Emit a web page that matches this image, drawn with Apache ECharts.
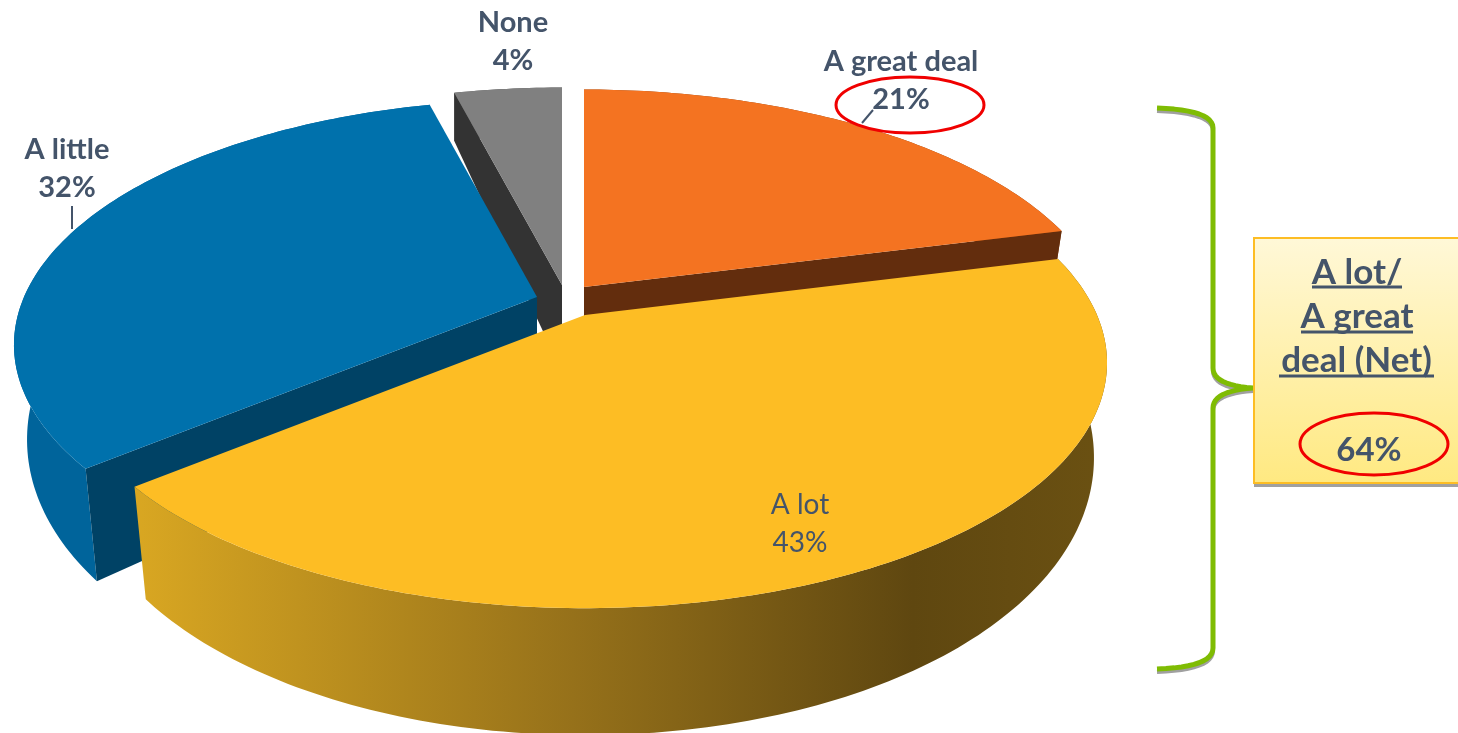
<!DOCTYPE html>
<html><head><meta charset="utf-8">
<style>html,body{margin:0;padding:0;background:#fff}#c{width:1458px;height:733px}</style>
<script src="https://cdn.jsdelivr.net/npm/echarts@6/dist/echarts.min.js"></script>
</head><body><div id="c"></div>
<script>
const categories = ['A great deal', 'A lot', 'A little', 'None'];
const values = [21, 43, 32, 4];
const netLabelLines = ['A lot/', 'A great', 'deal (Net)'];
const netValue = '64%';

const topColors = ['#f47321', '#fdbd24', '#0071ac', '#808080'];
const sideColors = ['#632d0d', '#fdbd24', '#004265', '#333333'];
const apexX = [584, 585, 537, 562];
const apexY = [287, 315, 297, 285];
const radii = [517, 512, 513, 515];
const wallShrink = [0.975, 0.975, 0.975, 1];
const drawOrder = [1, 3, 2, 0];
const radialEdge = ['end', null, 'start', 'start'];
const labelX = [901, 800, 67, 513];
const labelY = [81, 524, 169, 42];
const labelFont = ['bold 29px Lato', 'normal 28px Lato', 'bold 29px Lato', 'bold 29px Lato'];

const wallFills = [
  '#8a3f10',
  new echarts.graphic.LinearGradient(0, 0, 1, 0, [
    { offset: 0, color: '#d9a722' }, { offset: 0.45, color: '#96711a' },
    { offset: 0.8, color: '#5f4710' }, { offset: 1, color: '#6b5112' }]),
  '#00649b',
  '#555555'
];

const TILT = 236, PERSP = 0.195;
const total = values.reduce((a, b) => a + b, 0);

function project(i, deg, r) {
  const t = deg * Math.PI / 180;
  const u = Math.sin(t) * r, v = -Math.cos(t) * r;
  const s = 1 / (1 - PERSP * v);
  return { x: apexX[i] + radii[i] * u * s, y: apexY[i] + TILT * v * s, v };
}
function lower(i, p) {
  return [apexX[i] + (p.x - apexX[i]) * wallShrink[i], p.y + 87 + 40 * p.v];
}
function renderItem(params, api) {
  const i = params.dataIndex;
  let before = 0;
  for (let k = 0; k < i; k++) before += values[k];
  const a0 = before / total * 360;
  const a1 = (before + api.value(0)) / total * 360;
  const base = drawOrder[i] * 10;
  const arcTop = [], arcBottom = [];
  for (let d = a0; d < a1; d += 1) {
    const p = project(i, d, 1);
    arcTop.push(p); arcBottom.push(lower(i, p));
  }
  const pe = project(i, a1, 1);
  arcTop.push(pe); arcBottom.push(lower(i, pe));
  const apex = project(i, 0, 0);
  const children = [];
  children.push({ type: 'polygon', z2: base + 1,
    shape: { points: arcTop.map(p => [p.x, p.y]).concat(arcBottom.slice().reverse()) },
    style: { fill: wallFills[i] } });
  if (radialEdge[i]) {
    const e = radialEdge[i] === 'start' ? arcTop[0] : pe;
    children.push({ type: 'polygon', z2: base + 2,
      shape: { points: [[apex.x, apex.y], [e.x, e.y], lower(i, e), lower(i, apex)] },
      style: { fill: sideColors[i] } });
  }
  children.push({ type: 'polygon', z2: base + 3,
    shape: { points: [[apex.x, apex.y]].concat(arcTop.map(p => [p.x, p.y])) },
    style: { fill: topColors[i] } });
  children.push({ type: 'text', z2: 100,
    style: {
      text: categories[i] + '\n' + api.value(0) + '%',
      x: labelX[i], y: labelY[i], align: 'center', verticalAlign: 'middle',
      fill: '#44546a', lineHeight: 38,
      font: labelFont[i]
    } });
  return { type: 'group', children };
}

function curve(p0, c, p1) {
  const out = [];
  for (let k = 0; k <= 12; k++) {
    const t = k / 12, m = 1 - t;
    out.push([m * m * p0[0] + 2 * m * t * c[0] + t * t * p1[0], m * m * p0[1] + 2 * m * t * c[1] + t * t * p1[1]]);
  }
  return out;
}
const bracketPts = [].concat(
  curve([1157, 108], [1213, 110], [1213, 128]),
  curve([1213, 368], [1213, 385], [1253, 388]),
  curve([1253, 388], [1213, 391], [1213, 408]),
  curve([1213, 648], [1213, 667], [1157, 669])
);
const leaders = [[862, 123, 873, 110], [72, 206, 72, 229]];
const rings = [[910, 105, 74, 28], [1374, 444, 74, 31]];
const netY = [273, 317, 361];
const underlines = [[1312, 1402, 287], [1301, 1413, 332], [1279, 1434, 376]];

const graphics = [
  { type: 'polyline', z: 5, shape: { points: bracketPts }, x: 0, y: 3, style: { fill: 'none', stroke: '#a0a0a0', lineWidth: 4 } },
  { type: 'polyline', z: 6, shape: { points: bracketPts }, style: { fill: 'none', stroke: '#7fbc03', lineWidth: 5, lineJoin: 'round' } },
  { type: 'rect', z: 7, shape: { x: 1254, y: 241, width: 210, height: 246 }, style: { fill: '#a0a0a0' } },
  { type: 'rect', z: 8, shape: { x: 1254, y: 238, width: 210, height: 245 },
    style: { stroke: '#fdbd24', lineWidth: 2,
      fill: new echarts.graphic.LinearGradient(0, 0, 0, 1, [{ offset: 0, color: '#fff8d8' }, { offset: 1, color: '#ffe981' }]) } }
];
netLabelLines.forEach((t, i) => {
  graphics.push({ type: 'text', z: 9, style: { text: t, x: (underlines[i][0] + underlines[i][1]) / 2, y: netY[i], align: 'center', verticalAlign: 'middle', fill: '#44546a', font: 'bold 35px Lato' } });
  graphics.push({ type: 'line', z: 9, shape: { x1: underlines[i][0], x2: underlines[i][1], y1: underlines[i][2], y2: underlines[i][2] }, style: { stroke: '#44546a', lineWidth: 3 } });
});
graphics.push({ type: 'text', z: 9, style: { text: netValue, x: 1369, y: 450, align: 'center', verticalAlign: 'middle', fill: '#44546a', font: 'bold 33px Lato' } });
rings.forEach(r => graphics.push({ type: 'ellipse', z: 10, shape: { cx: r[0], cy: r[1], rx: r[2], ry: r[3] }, style: { fill: 'none', stroke: '#f00000', lineWidth: 3 } }));
leaders.forEach(l => graphics.push({ type: 'line', z: 10, shape: { x1: l[0], y1: l[1], x2: l[2], y2: l[3] }, style: { stroke: '#44546a', lineWidth: 2 } }));

const chart = echarts.init(document.getElementById('c'), null, { renderer: 'canvas' });
chart.setOption({
  animation: false,
  backgroundColor: '#ffffff',
  series: [{ type: 'custom', coordinateSystem: 'none', renderItem, data: values }],
  graphic: { elements: graphics }
});
</script></body></html>
